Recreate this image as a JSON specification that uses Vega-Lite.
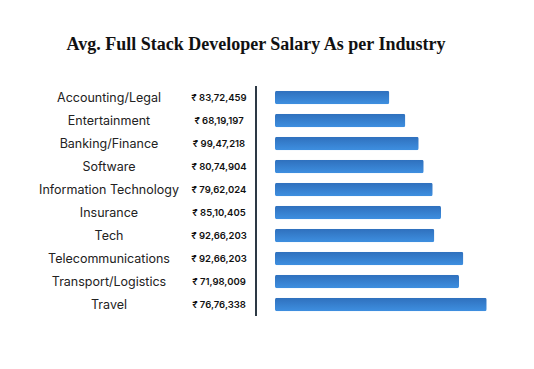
{
  "$schema": "https://vega.github.io/schema/vega-lite/v6.json",
  "width": 534,
  "height": 230,
  "autosize": "none",
  "padding": {"top": 86, "left": 0, "right": 0, "bottom": 0},
  "background": "white",
  "title": {
    "text": "Avg. Full Stack Developer Salary As per Industry",
    "font": "Liberation Serif",
    "fontSize": 18,
    "fontWeight": "bold",
    "color": "#111111",
    "anchor": "middle",
    "dx": -11,
    "offset": 31
  },
  "config": {"view": {"stroke": null}},
  "data": {
    "values": [
      {"industry": "Accounting/Legal", "salary": "₹ 83,72,459", "bar": 114.3},
      {"industry": "Entertainment", "salary": "₹ 68,19,197", "bar": 130.3},
      {"industry": "Banking/Finance", "salary": "₹ 99,47,218", "bar": 143.7},
      {"industry": "Software", "salary": "₹ 80,74,904", "bar": 148.7},
      {"industry": "Information Technology", "salary": "₹ 79,62,024", "bar": 157.7},
      {"industry": "Insurance", "salary": "₹ 85,10,405", "bar": 166},
      {"industry": "Tech", "salary": "₹ 92,66,203", "bar": 159.3},
      {"industry": "Telecommunications", "salary": "₹ 92,66,203", "bar": 188.3},
      {"industry": "Transport/Logistics", "salary": "₹ 71,98,009", "bar": 184},
      {"industry": "Travel", "salary": "₹ 76,76,338", "bar": 211.7}
    ]
  },
  "encoding": {
    "y": {
      "field": "industry",
      "type": "nominal",
      "sort": null,
      "axis": null,
      "scale": {"paddingInner": 0.42, "paddingOuter": 0.21}
    }
  },
  "layer": [
    {
      "mark": {
        "type": "bar",
        "cornerRadius": 2,
        "color": {
          "gradient": "linear",
          "x1": 0, "y1": 0, "x2": 0, "y2": 1,
          "stops": [
            {"offset": 0, "color": "#2f70bd"},
            {"offset": 1, "color": "#3e8fe0"}
          ]
        }
      },
      "encoding": {
        "x": {
          "field": "bar",
          "type": "quantitative",
          "axis": null,
          "scale": {"domain": [-275, 259], "zero": false, "nice": false}
        }
      }
    },
    {
      "mark": {"type": "text", "font": "Inter", "fontSize": 12.5, "color": "#222222", "align": "center", "baseline": "middle"},
      "encoding": {
        "x": {"datum": -166, "type": "quantitative"},
        "text": {"field": "industry"}
      }
    },
    {
      "mark": {"type": "text", "font": "Inter", "fontSize": 9.5, "fontWeight": 600, "color": "#111111", "align": "center", "baseline": "middle"},
      "encoding": {
        "x": {"datum": -56, "type": "quantitative"},
        "text": {"field": "salary"}
      }
    },
    {
      "mark": {"type": "rule", "color": "#2d3945", "strokeWidth": 2},
      "encoding": {
        "x": {"datum": -19, "type": "quantitative"},
        "y": null
      }
    }
  ]
}
